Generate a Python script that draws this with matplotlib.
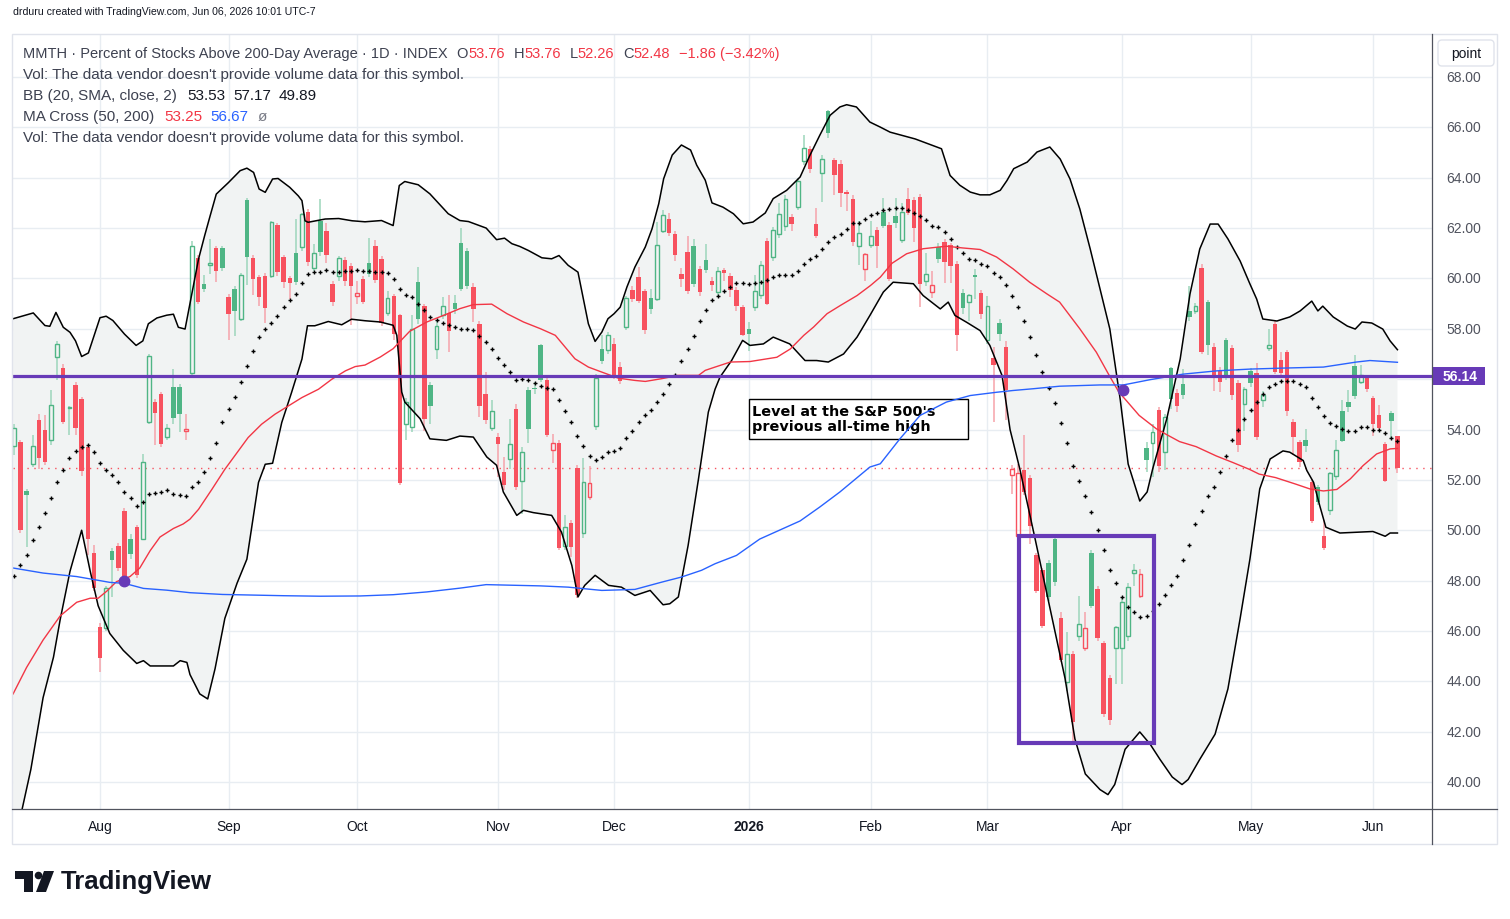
import numpy as np
import pandas as pd
import matplotlib
matplotlib.use('Agg')
import matplotlib.pyplot as plt
from matplotlib.patches import Rectangle, FancyBboxPatch, Circle, Polygon

plt.rcParams['font.family'] = ['Liberation Sans', 'DejaVu Sans']

# trading days on the chart (exchange holidays removed)
holidays = ['2025-09-01', '2025-11-27', '2025-12-25', '2026-01-01',
            '2026-01-19', '2026-02-16', '2026-04-03', '2026-05-25']
dates = pd.bdate_range('2025-07-14', '2026-06-05', freq='C', holidays=holidays)

# daily OHLC, one value per trading day
opens = [53.33, 53.5, 51.54, 52.63, 54.39, 54.0, 53.57, 56.88, 56.46, 54.85,
         55.78, 55.2, 53.29, 49.1, 46.16, 46.13, 49.19, 49.39, 50.78, 49.64,
         50.11, 49.67, 54.31, 55.1, 55.4, 53.72, 55.7, 55.7, 53.95, 56.23,
         60.83, 59.76, 60.52, 61.19, 61.19, 59.25, 59.6, 58.37, 63.11, 60.83,
         60.04, 60.08, 60.08, 62.12, 60.85, 60.0, 61.0, 61.23, 62.64, 60.4,
         62.28, 61.9, 59.77, 60.08, 60.73, 60.48, 59.32, 59.97, 60.62, 61.3,
         60.78, 58.61, 59.29, 58.53, 54.2, 54.1, 59.87, 58.92, 55.78, 57.18,
         58.53, 58.62, 59.04, 61.42, 61.1, 59.67, 58.2, 55.42, 54.06, 53.71,
         52.32, 52.83, 54.83, 51.95, 55.57, 55.65, 57.34, 55.95, 53.17, 53.48,
         49.36, 50.3, 52.48, 49.9, 51.32, 54.14, 57.21, 57.14, 57.41, 56.5,
         58.07, 59.55, 60.07, 59.51, 59.23, 59.18, 61.88, 62.37, 61.78, 60.19,
         61.05, 61.3, 60.39, 60.74, 59.9, 59.46, 60.33, 60.09, 59.55, 58.86,
         58.0, 58.85, 59.36, 61.5, 60.87, 61.76, 62.09, 62.45, 62.83, 64.66,
         65.15, 62.17, 64.19, 66.66, 64.69, 64.56, 63.44, 63.17, 61.28, 60.37,
         61.32, 61.93, 62.65, 62.13, 62.48, 61.52, 63.17, 63.13, 63.23, 59.89,
         59.46, 61.25, 61.44, 61.31, 60.58, 59.43, 59.06, 60.15, 59.43, 57.56,
         56.83, 58.24, 57.28, 52.21, 49.79, 52.4, 52.07, 49.02, 48.42, 48.69,
         49.66, 46.5, 43.96, 45.07, 45.79, 45.31, 49.1, 47.67, 45.52, 44.13,
         45.31, 45.31, 45.81, 48.29, 47.4, 53.27, 53.46, 54.78, 53.1, 56.44,
         55.47, 55.8, 58.72, 58.72, 60.41, 59.05, 57.26, 56.33, 57.55, 57.23,
         55.84, 55.03, 56.32, 56.26, 55.19, 57.25, 58.19, 56.75, 57.06, 54.28,
         53.5, 53.58, 51.93, 51.7, 49.77, 50.8, 52.17, 54.73, 55.09, 56.52,
         55.88, 56.05, 55.26, 54.56, 53.43, 54.66, 53.76]
highs = [54.2, 53.6, 51.64, 53.8, 54.6, 54.56, 55.58, 57.5, 56.6, 54.95,
         55.9, 55.3, 53.4, 49.4, 46.3, 47.8, 49.3, 49.5, 50.9, 49.87,
         50.2, 53.04, 57.0, 55.2, 55.5, 54.2, 56.4, 55.8, 54.6, 61.5,
         60.95, 60.13, 61.56, 61.3, 61.3, 59.4, 59.7, 60.22, 63.2, 60.95,
         60.15, 60.2, 62.3, 62.2, 60.95, 60.1, 62.38, 62.6, 62.75, 61.36,
         63.15, 62.2, 59.9, 60.9, 60.85, 60.6, 59.9, 60.1, 61.6, 61.52,
         60.9, 59.52, 59.4, 58.6, 55.26, 58.56, 60.45, 59.0, 55.9, 58.3,
         59.26, 59.34, 59.36, 62.0, 61.2, 59.8, 58.3, 56.3, 55.17, 53.85,
         52.9, 54.4, 55.0, 53.3, 55.68, 55.9, 57.41, 56.05, 53.84, 53.6,
         50.62, 50.4, 52.6, 52.87, 52.54, 56.2, 57.76, 57.87, 57.65, 56.7,
         59.3, 59.7, 60.45, 59.6, 59.59, 62.23, 62.72, 62.6, 61.9, 60.43,
         61.68, 61.55, 60.5, 61.37, 60.05, 60.45, 60.4, 60.2, 59.65, 58.95,
         58.26, 60.12, 60.7, 61.6, 62.05, 63.0, 63.3, 62.55, 64.0, 65.68,
         65.25, 62.8, 64.9, 66.7, 64.8, 64.7, 63.5, 63.3, 62.3, 61.0,
         62.3, 62.05, 63.2, 62.25, 63.2, 63.0, 63.6, 63.25, 63.35, 61.03,
         60.3, 61.4, 61.55, 61.4, 60.7, 59.6, 59.4, 60.39, 59.55, 59.32,
         57.26, 58.4, 57.5, 52.6, 52.64, 53.79, 52.2, 49.1, 48.5, 48.8,
         49.8, 46.74, 45.94, 45.2, 47.4, 46.74, 49.2, 47.8, 45.6, 44.25,
         46.2, 47.3, 47.9, 48.66, 48.46, 53.5, 54.2, 54.9, 54.6, 56.5,
         55.6, 56.4, 59.7, 59.04, 60.57, 59.15, 57.43, 56.5, 57.65, 57.35,
         55.95, 55.7, 56.45, 56.63, 55.54, 57.99, 58.3, 57.08, 57.15, 54.4,
         53.6, 54.02, 52.05, 51.8, 50.4, 52.3, 53.59, 55.18, 55.55, 56.97,
         56.56, 56.15, 55.35, 54.96, 53.5, 54.75, 53.76]
lows = [53.0, 49.9, 49.33, 52.5, 52.45, 52.6, 53.4, 55.98, 54.2, 53.8,
        53.8, 52.14, 49.0, 47.6, 44.37, 46.0, 47.36, 48.4, 48.0, 48.85,
        48.1, 49.6, 54.2, 53.4, 53.3, 53.6, 54.2, 53.9, 53.6, 56.1,
        59.0, 59.45, 60.17, 59.87, 60.3, 57.56, 57.7, 58.3, 59.75, 59.34,
        58.92, 58.25, 60.0, 60.1, 59.64, 59.18, 59.75, 61.1, 60.5, 60.3,
        60.9, 60.6, 58.9, 59.9, 59.7, 58.15, 59.0, 59.0, 60.05, 59.8,
        58.1, 58.5, 57.54, 51.8, 53.6, 53.9, 58.2, 53.95, 54.2, 56.81,
        58.4, 57.08, 58.6, 59.5, 59.6, 58.27, 54.5, 54.2, 53.95, 52.1,
        51.6, 52.43, 51.6, 50.66, 53.45, 55.4, 55.9, 53.7, 52.67, 49.2,
        49.2, 48.93, 47.3, 49.7, 51.2, 54.0, 56.6, 57.0, 56.0, 55.8,
        57.94, 59.05, 59.03, 57.8, 58.6, 59.1, 61.8, 61.7, 60.71, 59.66,
        59.4, 59.65, 59.3, 60.2, 59.5, 59.3, 59.9, 59.26, 58.7, 57.7,
        57.1, 58.7, 59.2, 58.93, 60.7, 61.6, 61.9, 61.87, 62.7, 64.5,
        64.2, 61.6, 63.03, 65.57, 63.3, 62.83, 62.66, 61.3, 60.54, 59.88,
        61.2, 60.4, 62.0, 59.9, 62.0, 61.4, 62.5, 61.46, 58.88, 59.7,
        59.21, 60.6, 59.8, 59.8, 57.11, 58.6, 58.3, 59.2, 58.4, 57.4,
        54.3, 57.5, 54.38, 51.44, 49.6, 51.4, 49.45, 47.5, 46.1, 47.2,
        47.8, 44.75, 43.62, 41.6, 45.6, 45.2, 46.9, 45.6, 42.6, 42.25,
        43.9, 43.9, 45.6, 47.8, 47.3, 52.3, 52.1, 52.3, 52.4, 54.8,
        54.7, 55.2, 58.3, 58.6, 57.0, 56.96, 55.54, 55.5, 55.95, 55.18,
        53.09, 53.94, 55.7, 53.6, 54.9, 57.1, 56.2, 56.1, 54.52, 53.0,
        52.5, 53.1, 50.3, 51.0, 49.2, 50.6, 52.0, 53.5, 54.7, 55.2,
        55.8, 55.5, 53.76, 54.0, 51.9, 53.67, 52.26]
closes = [54.08, 50.0, 51.39, 53.33, 52.85, 52.72, 54.96, 57.4, 54.31, 54.9,
          54.05, 52.36, 49.64, 47.72, 44.91, 47.7, 48.82, 48.51, 48.1, 49.05,
          48.24, 52.7, 56.9, 54.67, 53.44, 54.08, 54.46, 54.62, 54.04, 61.3,
          59.07, 59.58, 60.6, 60.3, 60.42, 58.6, 58.72, 60.12, 60.86, 59.97,
          59.25, 58.83, 62.26, 60.26, 59.87, 59.8, 59.84, 62.54, 60.66, 61.03,
          61.06, 60.94, 59.07, 60.83, 59.9, 59.71, 59.44, 59.07, 60.16, 59.92,
          58.24, 59.23, 57.8, 51.87, 55.09, 58.0, 58.37, 54.4, 54.95, 58.12,
          58.92, 57.92, 58.77, 59.6, 59.71, 58.77, 54.92, 54.36, 54.73, 53.44,
          51.78, 53.42, 51.7, 53.1, 54.03, 55.6, 55.95, 53.77, 53.46, 49.29,
          50.13, 49.32, 47.41, 51.91, 51.88, 56.04, 56.71, 57.76, 56.15, 55.92,
          59.22, 59.17, 59.12, 57.94, 58.77, 61.32, 62.5, 61.81, 60.95, 59.96,
          59.52, 59.76, 59.45, 60.32, 59.75, 60.3, 60.21, 59.55, 58.89, 57.77,
          57.8, 59.5, 60.54, 59.0, 61.93, 62.57, 63.17, 62.15, 63.87, 65.18,
          64.33, 61.68, 64.74, 65.77, 64.09, 63.38, 63.35, 61.44, 61.8, 60.98,
          61.68, 61.27, 62.1, 59.99, 62.21, 62.64, 62.6, 62.01, 59.76, 60.17,
          59.75, 60.76, 60.64, 60.48, 57.74, 58.82, 59.35, 60.04, 58.57, 58.9,
          56.57, 57.8, 55.55, 52.44, 52.28, 51.51, 50.16, 47.6, 46.21, 47.34,
          47.93, 44.86, 45.07, 42.37, 46.27, 46.11, 47.0, 45.73, 42.7, 42.48,
          46.15, 47.14, 47.76, 48.41, 48.25, 52.77, 53.89, 52.57, 54.49, 55.23,
          54.94, 55.38, 58.48, 58.89, 57.06, 57.36, 56.13, 55.89, 56.05, 55.38,
          53.39, 55.59, 55.85, 53.71, 55.38, 57.34, 56.29, 56.25, 54.73, 53.71,
          52.72, 53.35, 50.37, 51.13, 49.28, 52.26, 53.18, 53.56, 54.91, 55.32,
          56.15, 55.62, 54.2, 54.07, 51.97, 54.34, 52.48]

# Bollinger basis (20 SMA), one value per day
bb_basis = [48.2, 48.6, 49.0, 49.6, 50.14, 50.7, 51.3, 51.9, 52.4, 52.85,
            53.15, 53.3, 53.4, 53.12, 52.66, 52.4, 52.2, 51.9, 51.5, 51.3,
            50.96, 51.14, 51.43, 51.47, 51.5, 51.58, 51.44, 51.41, 51.37, 51.7,
            51.93, 52.3, 52.85, 53.48, 54.28, 54.83, 55.31, 55.9, 56.53, 57.1,
            57.66, 57.99, 58.25, 58.52, 58.87, 59.14, 59.4, 59.8, 60.17, 60.24,
            60.24, 60.33, 60.24, 60.24, 60.3, 60.3, 60.33, 60.29, 60.3, 60.27,
            60.24, 60.21, 59.99, 59.59, 59.35, 59.26, 59.0, 58.75, 58.47, 58.33,
            58.23, 58.15, 58.07, 57.98, 57.98, 57.94, 57.7, 57.47, 57.18, 56.85,
            56.55, 56.28, 55.96, 56.0, 55.95, 55.85, 55.73, 55.65, 55.59, 55.18,
            54.73, 54.3, 53.74, 53.34, 52.95, 52.8, 52.91, 53.1, 53.14, 53.26,
            53.66, 53.93, 54.3, 54.56, 54.79, 55.09, 55.41, 55.81, 56.15, 56.71,
            57.18, 57.71, 58.29, 58.73, 59.13, 59.32, 59.5, 59.65, 59.81, 59.81,
            59.79, 59.81, 59.85, 59.95, 60.04, 60.15, 60.15, 60.15, 60.29, 60.58,
            60.78, 60.89, 61.15, 61.44, 61.64, 61.77, 61.97, 62.19, 62.19, 62.37,
            62.53, 62.61, 62.72, 62.77, 62.78, 62.81, 62.7, 62.6, 62.48, 62.33,
            62.07, 62.03, 61.84, 61.55, 61.23, 61.01, 60.78, 60.74, 60.58, 60.49,
            60.21, 60.05, 59.74, 59.32, 58.86, 58.3, 57.67, 56.97, 56.28, 55.64,
            55.05, 54.25, 53.46, 52.54, 51.97, 51.35, 50.72, 49.99, 49.23, 48.42,
            47.89, 47.34, 46.94, 46.74, 46.54, 46.61, 46.8, 47.06, 47.44, 47.84,
            48.2, 48.8, 49.4, 50.23, 50.78, 51.34, 51.72, 52.32, 52.95, 53.59,
            54.0, 54.4, 54.79, 55.1, 55.4, 55.68, 55.8, 55.93, 55.93, 55.91,
            55.8, 55.7, 55.27, 54.91, 54.52, 54.25, 54.13, 54.03, 53.93, 53.93,
            54.09, 54.09, 54.0, 54.0, 53.85, 53.67, 53.53]

# band and moving-average lines (x = bars from Aug 1)
bb_up_x = [-14.2, -10.9, -9.0, -8.2, -7.2, -6.0, -4.9, -4.0, -3.0, -1.9,
           0.0, 1.0, 2.1, 4.0, 5.9, 7.0, 7.9, 9.3, 10.9, 12.0,
           12.8, 13.9, 15.1, 16.1, 17.1, 18.0, 19.0, 21.0, 22.9, 24.0,
           25.1, 26.0, 27.0, 28.2, 29.1, 31.0, 32.4, 33.0, 33.5, 34.0,
           36.8, 39.0, 41.2, 43.3, 46.0, 47.9, 48.9, 49.8, 52.0, 53.9,
           56.9, 58.8, 60.2, 63.1, 64.8, 66.1, 67.3, 68.6, 70.0, 72.2,
           73.8, 75.0, 76.5, 78.1, 79.8, 80.9, 82.0, 83.0, 84.0, 85.0,
           86.1, 87.4, 89.1, 90.2, 91.3, 92.1, 93.5, 95.0, 96.5, 97.5,
           98.9, 100.0, 101.8, 103.5, 105.1, 106.7, 108.7, 110.0, 112.2, 114.4,
           116.0, 117.6, 119.3, 120.9, 122.0, 123.6, 125.8, 127.5, 129.1, 133.2,
           137.5, 138.9, 140.5, 142.2, 143.8, 145.4, 147.1, 148.2, 149.3, 151.5,
           153.1, 155.2, 156.9, 158.5, 160.1, 161.8, 163.4, 165.0, 166.7, 168.0,
           169.9, 171.1, 172.0, 174.3, 176.5, 178.1, 179.7, 181.4, 182.7, 184.3,
           186.3, 187.9, 189.0, 190.0, 192.3, 194.4, 196.1, 198.0, 199.0, 199.8,
           201.5, 203.8, 205.1, 206.2, 207.8, 209.6, 210.8, 212.0]
bb_up = [58.4, 58.63, 58.13, 58.1, 58.65, 58.06, 57.86, 57.52, 56.9, 57.04,
         58.44, 58.5, 58.33, 57.79, 57.34, 57.52, 58.2, 58.43, 58.54, 58.58,
         58.06, 57.99, 59.51, 60.77, 61.7, 62.49, 63.35, 63.81, 64.28, 64.38,
         64.21, 63.55, 63.42, 63.95, 63.97, 63.62, 63.28, 63.09, 62.29, 62.23,
         62.36, 62.38, 62.29, 62.25, 62.3, 62.1, 63.69, 63.85, 63.72, 63.36,
         62.57, 62.3, 62.26, 62.0, 61.54, 61.6, 61.38, 61.27, 61.11, 60.82,
         60.78, 60.91, 60.52, 60.25, 58.2, 57.5, 57.87, 58.4, 58.6, 58.86,
         59.66, 60.45, 61.25, 61.97, 62.97, 63.96, 64.9, 65.3, 65.1, 64.5,
         63.9, 63.0, 62.83, 62.57, 62.17, 62.24, 62.6, 63.17, 63.5, 64.03,
         64.89, 65.68, 66.48, 66.81, 66.9, 66.81, 66.21, 66.01, 65.81, 65.54,
         65.15, 64.09, 63.7, 63.43, 63.32, 63.32, 63.5, 63.89, 64.36, 64.62,
         65.02, 65.22, 64.74, 63.95, 62.76, 61.17, 59.58, 58.0, 55.2, 52.63,
         51.16, 51.52, 52.43, 54.42, 56.8, 59.38, 61.17, 62.16, 62.16, 61.57,
         60.69, 59.78, 59.18, 58.39, 58.31, 58.47, 58.71, 59.1, 58.71, 58.9,
         58.47, 58.11, 57.99, 58.27, 58.23, 57.99, 57.52, 57.17]
bb_lo_x = [-14.2, -12.7, -11.3, -9.3, -7.6, -6.5, -4.9, -3.8, -3.0, -1.6,
           -0.3, 1.6, 3.8, 6.0, 7.1, 8.2, 12.0, 13.1, 14.2, 14.7,
           16.3, 17.6, 18.8, 20.4, 22.4, 24.0, 25.9, 27.0, 28.2, 29.7,
           31.3, 33.0, 33.9, 35.1, 37.3, 39.5, 41.1, 43.3, 45.8, 47.9,
           48.5, 49.3, 49.8, 52.3, 53.9, 56.6, 58.8, 61.0, 63.2, 64.8,
           65.9, 68.1, 69.2, 70.8, 73.8, 75.4, 77.1, 78.1, 79.2, 80.9,
           83.1, 85.2, 87.4, 89.9, 92.0, 93.1, 94.5, 96.1, 97.8, 99.4,
           100.5, 101.3, 103.2, 105.0, 106.2, 108.4, 110.0, 112.7, 115.2, 117.1,
           119.0, 121.5, 123.7, 125.8, 128.0, 129.6, 132.9, 134.5, 137.3, 138.6,
           139.7, 141.6, 143.8, 145.4, 147.4, 148.7, 150.3, 152.8, 154.9, 157.7,
           159.3, 161.0, 163.4, 164.7, 165.8, 167.5, 169.9, 171.6, 173.2, 175.2,
           176.8, 177.8, 179.7, 182.2, 184.3, 186.3, 187.9, 189.5, 191.2, 193.3,
           194.4, 196.6, 197.2, 198.3, 199.3, 200.3, 202.6, 205.3, 208.0, 210.0,
           210.8, 212.0]
bb_lo = [37.5, 38.95, 40.5, 43.35, 44.96, 46.46, 48.37, 49.32, 50.0, 48.37,
         47.0, 45.9, 45.23, 44.71, 44.82, 44.61, 44.61, 44.82, 44.75, 44.27,
         43.5, 43.3, 44.5, 46.5, 47.9, 48.85, 51.9, 52.62, 52.66, 54.28,
         55.47, 56.8, 58.12, 58.12, 58.29, 58.16, 58.38, 58.32, 58.27, 58.14,
         57.74, 55.49, 55.09, 54.43, 53.63, 53.57, 53.74, 53.7, 52.91, 52.58,
         51.52, 50.59, 50.79, 50.7, 50.59, 49.93, 48.6, 47.35, 47.81, 48.21,
         47.81, 47.74, 47.41, 47.61, 47.04, 47.08, 47.35, 49.4, 52.05, 54.69,
         55.6, 56.08, 56.74, 57.54, 57.34, 57.4, 57.67, 57.4, 56.74, 56.74,
         56.68, 57.0, 57.67, 58.53, 59.46, 59.85, 59.79, 59.32, 58.79, 59.06,
         58.53, 58.26, 57.93, 57.34, 56.14, 54.0, 52.43, 49.65, 47.27, 44.1,
         41.71, 40.32, 39.7, 39.5, 39.9, 41.3, 41.99, 41.5, 40.9, 40.2,
         39.9, 40.1, 40.9, 41.9, 43.7, 46.5, 48.86, 51.64, 52.83, 53.15,
         53.1, 52.77, 52.37, 51.9, 50.98, 50.12, 49.89, 49.92, 49.95, 49.76,
         49.89, 49.89]
ma50_x = [-14.2, -12.0, -9.3, -6.5, -3.8, -1.6, -0.3, 1.1, 2.7, 4.9,
          6.5, 8.2, 9.8, 12.0, 13.6, 14.7, 16.1, 18.3, 20.4, 24.2,
          26.4, 28.6, 30.8, 33.0, 35.7, 37.9, 40.1, 41.7, 43.3, 45.8,
          47.9, 50.6, 53.4, 56.1, 58.8, 61.0, 64.0, 66.5, 69.2, 72.0,
          74.4, 77.6, 79.8, 82.0, 84.7, 87.4, 89.1, 91.8, 94.5, 97.8,
          98.9, 100.5, 103.0, 106.2, 110.6, 112.8, 115.0, 116.6, 118.8, 121.0,
          123.7, 125.9, 127.5, 129.4, 131.8, 134.5, 138.3, 141.0, 143.8, 146.5,
          149.2, 151.9, 154.7, 156.8, 160.1, 162.8, 164.9, 166.5, 167.7, 169.8,
          172.6, 174.2, 176.4, 179.1, 182.4, 185.1, 187.8, 189.4, 192.1, 195.4,
          197.7, 199.9, 202.1, 204.3, 206.4, 208.6, 210.8, 212.0]
ma50 = [43.5, 44.55, 45.64, 46.6, 47.14, 47.3, 47.3, 47.58, 47.96, 48.16,
        48.5, 49.19, 49.73, 50.07, 50.25, 50.44, 50.83, 51.63, 52.42, 53.68,
        54.21, 54.61, 54.94, 55.27, 55.6, 56.0, 56.33, 56.5, 56.56, 56.88,
        57.21, 57.9, 58.27, 58.53, 58.8, 58.96, 58.98, 58.6, 58.27, 58.0,
        57.74, 56.81, 56.48, 56.28, 56.04, 55.95, 55.91, 56.02, 56.15, 56.15,
        56.35, 56.48, 56.68, 56.7, 56.87, 57.2, 57.74, 58.07, 58.6, 58.93,
        59.32, 59.72, 60.05, 60.6, 60.98, 61.18, 61.28, 61.21, 61.15, 60.85,
        60.38, 59.85, 59.39, 59.06, 58.0, 57.07, 56.15, 55.48, 55.15, 54.56,
        54.03, 53.81, 53.52, 53.32, 52.95, 52.69, 52.42, 52.23, 52.09, 51.83,
        51.64, 51.56, 51.62, 52.04, 52.57, 53.03, 53.23, 53.25]
ma200_x = [-14.2, -9.3, -3.8, 1.6, 4.0, 7.1, 10.9, 14.7, 20.0, 30.0,
           36.0, 42.5, 47.9, 53.4, 58.8, 63.1, 72.0, 76.5, 82.0, 87.4,
           91.8, 95.0, 98.3, 100.5, 104.0, 107.8, 114.4, 117.6, 120.9, 125.8,
           127.5, 130.7, 134.0, 138.3, 142.2, 146.5, 149.2, 152.5, 156.8, 163.4,
           167.2, 171.6, 177.0, 182.5, 187.9, 193.4, 199.9, 205.3, 207.5, 212.0]
ma200 = [48.5, 48.3, 48.16, 47.93, 47.89, 47.69, 47.62, 47.52, 47.45, 47.4,
         47.38, 47.39, 47.44, 47.55, 47.7, 47.84, 47.79, 47.74, 47.61, 47.65,
         47.94, 48.14, 48.41, 48.67, 49.0, 49.65, 50.37, 50.92, 51.52, 52.51,
         52.64, 53.63, 54.56, 55.09, 55.35, 55.48, 55.55, 55.62, 55.72, 55.77,
         55.77, 55.98, 56.2, 56.33, 56.4, 56.44, 56.48, 56.68, 56.74, 56.67]
cross_x = [3.9, 167.2]
cross_y = [48.0, 55.55]

sp500_level = 56.14
box_x = (150.2, 172.2)
box_y = (41.55, 49.77)
note = "Level at the S&P 500's\nprevious all-time high"

RED = '#f7525f'
GREEN = '#4fb585'
RED_W = '#f6a3aa'
GREEN_W = '#9dd6bb'
PURPLE = '#673ab7'
GRID = '#e8edf2'
LBL = '#3d4150'
DARK = '#131722'

o = np.array(opens)
h = np.array(highs)
l = np.array(lows)
c = np.array(closes)
K0 = dates.get_loc(pd.Timestamp('2025-08-01'))
x = np.arange(len(c)) - K0

W, H = 1510, 920
L, R, T, B = 13, 1432, 35, 810
fig = plt.figure(figsize=(W / 100, H / 100), dpi=100)
ax = fig.add_axes([L / W, 1 - B / H, (R - L) / W, (B - T) / H])
ax.set_xlim((L - 100) / 6.12, (R - 100) / 6.12)
ax.set_ylim(68 - (B - 78) / 25.18, 68 + (78 - T) / 25.18)
ax.axis('off')

# grid
month_idx = [i for i in range(1, len(dates)) if dates[i].month != dates[i - 1].month]
for v in range(40, 70, 2):
    ax.axhline(v, color=GRID, lw=1, zorder=0.5)
for i in month_idx:
    ax.axvline(i - K0, color=GRID, lw=1, zorder=0.5)

# Bollinger band background
ax.fill(np.r_[bb_up_x, bb_lo_x[::-1]], np.r_[bb_up, bb_lo[::-1]],
        color='#f1f3f3', lw=0, zorder=1)

ax.axhline(c[-1], color=RED, lw=1, ls=(0, (1, 4)), zorder=1.5)

# candles: colour vs previous close, hollow when close > open
prev = np.r_[o[0], c[:-1]]
up = c >= prev
body_lo = np.minimum(o, c)
body_hi = np.maximum(o, c)
height = np.maximum(body_hi - body_lo, 0.04)
hollow = c > o
wick_col = np.where(up, GREEN_W, RED_W)
ax.vlines(x, body_hi, np.maximum(h, body_hi), colors=wick_col, lw=1.1, zorder=2)
ax.vlines(x, np.minimum(l, body_lo), body_lo, colors=wick_col, lw=1.1, zorder=2)
col = np.where(up, GREEN, RED)
f = ~hollow
ax.bar(x[f], height[f], bottom=body_lo[f], width=0.72, color=col[f], lw=0, zorder=2.5)
ax.bar(x[hollow], height[hollow], bottom=body_lo[hollow], width=0.6,
       facecolor='none', edgecolor=col[hollow], lw=1.0, zorder=2.5)

# note box
ax.add_patch(Rectangle((106.05, 53.62), 35.8, 1.59, fc='white', ec='black', lw=1, zorder=3))
ax.text(106.55, 54.42, note, fontsize=10.4, fontweight='bold', family='DejaVu Sans',
        ha='left', va='center', linespacing=1.1, color='black', zorder=3.2)

# indicators
ax.plot(bb_up_x, bb_up, color='black', lw=1.1, zorder=4)
ax.plot(bb_lo_x, bb_lo, color='black', lw=1.1, zorder=4)
ax.plot(x, bb_basis, '+', color='black', ms=3.2, mew=1.0, zorder=4)
ax.plot(ma50_x, ma50, color='#f23645', lw=1.0, zorder=4.5)
ax.plot(ma200_x, ma200, color='#2962ff', lw=1.0, zorder=4.5)

ax.axhline(sp500_level, color=PURPLE, lw=2.3, zorder=5)
ax.plot(cross_x, cross_y, 'o', color=PURPLE, ms=7.5, zorder=6)
ax.add_patch(Rectangle((box_x[0], box_y[0]), box_x[1] - box_x[0], box_y[1] - box_y[0],
                       fill=False, ec=PURPLE, lw=3, zorder=6))

# price scale (the 56 label sits under the level tag) and month labels
for v in range(40, 70, 2):
    if abs(v - sp500_level) < 0.5:
        continue
    ax.text((1464 - L) / (R - L), v, f'{v:.2f}', transform=ax.get_yaxis_transform(),
            ha='center', va='center', fontsize=10, color='#50535e', clip_on=False)
for i in month_idx:
    d = dates[i]
    lab = str(d.year) if d.month == 1 else d.strftime('%b')
    ax.text(i - K0, -(827 - B) / (B - T), lab, transform=ax.get_xaxis_transform(),
            ha='center', va='center', fontsize=10, color=DARK,
            fontweight='bold' if d.month == 1 else 'normal', clip_on=False)

# overlay in pixel units for frame, legend and logo
ov = fig.add_axes([0, 0, 1, 1], zorder=10)
ov.set_xlim(0, W)
ov.set_ylim(H, 0)
ov.axis('off')
ov.add_patch(Rectangle((12, T), 1485, 845 - T, fill=False, ec='#e0e3eb', lw=1))
ov.plot([R, R], [T, 845], color='#50535e', lw=0.9)
ov.plot([12, 1497], [B, B], color='#50535e', lw=0.9)
ov.add_patch(FancyBboxPatch((1438, 41), 56, 26, boxstyle='round,pad=0,rounding_size=4',
                            fc='white', ec='#e0e3eb', lw=1))
ov.text(1466, 54, 'point', ha='center', va='center', fontsize=10, color=DARK)
ov.add_patch(Rectangle((1433, 368), 52, 18, fc=PURPLE, lw=0))
ov.text(1460, 377.5, f'{sp500_level:.2f}', ha='center', va='center', fontsize=10,
        color='white', fontweight='bold')

ov.text(13, 12, 'drduru created with TradingView.com, Jun 06, 2026 10:01 UTC-7',
        ha='left', va='center', fontsize=7.6, color=DARK)

rend = fig.canvas.get_renderer()


def legend_line(x0, y0, parts, size=11):
    for s, colr, gap in parts:
        x0 += gap
        t = ov.text(x0, y0, s, color=colr, fontsize=size, ha='left', va='center')
        x0 += t.get_window_extent(renderer=rend).width


chg = c[-1] - c[-2]
legend_line(23, 54, [('MMTH · Percent of Stocks Above 200-Day Average · 1D · INDEX', LBL, 0),
                     ('O', LBL, 9), (f'{o[-1]:.2f}', '#f23645', 0),
                     ('H', LBL, 9), (f'{h[-1]:.2f}', '#f23645', 0),
                     ('L', LBL, 9), (f'{l[-1]:.2f}', '#f23645', 0),
                     ('C', LBL, 9), (f'{c[-1]:.2f}', '#f23645', 0),
                     (f'\u2212{abs(chg):.2f} (\u2212{abs(chg) / c[-2] * 100:.2f}%)', '#f23645', 9)],
            size=10.5)
legend_line(23, 75, [("Vol: The data vendor doesn't provide volume data for this symbol.", LBL, 0)])
legend_line(23, 96, [('BB (20, SMA, close, 2)', LBL, 0), (f'{bb_basis[-1]:.2f}', DARK, 10),
                     (f'{bb_up[-1]:.2f}', DARK, 8), (f'{bb_lo[-1]:.2f}', DARK, 8)])
legend_line(23, 117, [('MA Cross (50, 200)', LBL, 0), (f'{ma50[-1]:.2f}', '#f23645', 10),
                      (f'{ma200[-1]:.2f}', '#2962ff', 8), ('ø', '#787b86', 9)])
legend_line(23, 138, [("Vol: The data vendor doesn't provide volume data for this symbol.", LBL, 0)])

# TradingView logo
ov.add_patch(Polygon([(15, 872), (33, 872), (33, 893), (24, 893), (24, 880), (15, 880)],
                     fc=DARK, lw=0))
ov.add_patch(Circle((38.5, 876.5), 3.8, fc=DARK, lw=0))
ov.add_patch(Polygon([(44, 872), (54, 872), (46, 893), (36, 893)], fc=DARK, lw=0))
ov.text(61, 882, 'TradingView', ha='left', va='center', fontsize=18.5, fontweight='bold', color=DARK)

fig.savefig('out.png', dpi=100)
